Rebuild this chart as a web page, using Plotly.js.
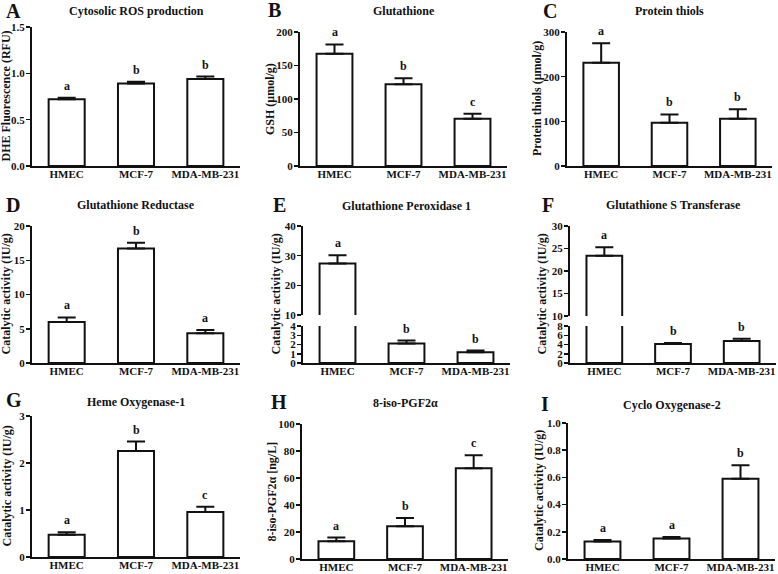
<!DOCTYPE html>
<html><head><meta charset="utf-8">
<script src="https://cdn.plot.ly/plotly-3.0.1.min.js"></script>
<style>html,body{margin:0;padding:0;background:#fff}</style>
</head><body><div id="chart" style="width:778px;height:574px"></div>
<script>
const categories = ['HMEC', 'MCF-7', 'MDA-MB-231'];

const rosMean = [0.72, 0.89, 0.94];
const rosErr = [0.016, 0.02, 0.025];
const rosLetters = ['a', 'b', 'b'];

const gshMean = [167.5, 122, 70.5];
const gshErr = [14, 9, 7.5];
const gshLetters = ['a', 'b', 'c'];

const thiolMean = [231, 97, 106];
const thiolErr = [44, 18.5, 21];
const thiolLetters = ['a', 'b', 'b'];

const grMean = [6.0, 16.7, 4.35];
const grErr = [0.65, 0.85, 0.45];
const grLetters = ['a', 'b', 'a'];

const gpxMean = [27.4, 2.1, 1.17];
const gpxErr = [2.7, 0.32, 0.18];
const gpxLetters = ['a', 'b', 'b'];

const gstMean = [23.4, 4.1, 4.75];
const gstErr = [1.9, 0.22, 0.5];
const gstLetters = ['a', 'b', 'b'];

const hoMean = [0.475, 2.255, 0.96];
const hoErr = [0.05, 0.2, 0.11];
const hoLetters = ['a', 'b', 'c'];

const isoMean = [13.2, 24.2, 67.2];
const isoErr = [2.7, 6.2, 9.6];
const isoLetters = ['a', 'b', 'c'];

const coxMean = [0.128, 0.15, 0.59];
const coxErr = [0.012, 0.012, 0.1];
const coxLetters = ['a', 'a', 'b'];

const W = 778, H = 574;
const FONT = 'Liberation Serif, Times New Roman, serif';
const dx = (a, b) => [a / W, b / W];
const dy = (top, bottom) => [1 - bottom / H, 1 - top / H];
const axId = n => (n === 1 ? '' : String(n));

const panels = [
  {tag: 'A', title: 'Cytosolic ROS production', ytitle: 'DHE Fluorescence (RFU)', mean: rosMean, err: rosErr, letters: rosLetters,
   x: [32, 240], segs: [{range: [0, 1.5], y: [27, 166], dtick: 0.5, fmt: '.1f'}], ytx: 5, lx: 4, ly: 11, ty: 11},
  {tag: 'B', title: 'Glutathione', ytitle: 'GSH (μmol/g)', mean: gshMean, err: gshErr, letters: gshLetters,
   x: [300, 507], segs: [{range: [0, 200], y: [32, 166], dtick: 50}], ytx: 270, lx: 266, ly: 10, ty: 11},
  {tag: 'C', title: 'Protein thiols', ytitle: 'Protein thiols (μmol/g)', mean: thiolMean, err: thiolErr, letters: thiolLetters,
   x: [567, 772], segs: [{range: [0, 300], y: [32, 166], dtick: 100}], ytx: 537, lx: 541, ly: 11, ty: 11},
  {tag: 'D', title: 'Glutathione Reductase', ytitle: 'Catalytic activity (IU/g)', mean: grMean, err: grErr, letters: grLetters,
   x: [32, 240], segs: [{range: [0, 20], y: [226, 363], dtick: 5}], ytx: 6, lx: 4, ly: 205, ty: 205},
  {tag: 'E', title: 'Glutathione Peroxidase 1', ytitle: 'Catalytic activity (IU/g)', mean: gpxMean, err: gpxErr, letters: gpxLetters,
   x: [303, 510], segs: [{range: [10, 40], y: [226, 315], dtick: 10}, {range: [0, 4], y: [326, 363], dtick: 1}], ytx: 276, lx: 271, ly: 205, ty: 206},
  {tag: 'F', title: 'Glutathione S Transferase', ytitle: 'Catalytic activity (IU/g)', mean: gstMean, err: gstErr, letters: gstLetters,
   x: [570, 776], segs: [{range: [10, 30], y: [226, 316], dtick: 5}, {range: [0, 8], y: [326, 363], dtick: 2}], ytx: 542, lx: 540, ly: 205, ty: 205},
  {tag: 'G', title: 'Heme Oxygenase-1', ytitle: 'Catalytic activity (IU/g)', mean: hoMean, err: hoErr, letters: hoLetters,
   x: [32, 240], segs: [{range: [0, 3], y: [416, 557], dtick: 1}], ytx: 6, lx: 4, ly: 400, ty: 402},
  {tag: 'H', title: '8-iso-PGF2α', ytitle: '8-iso-PGF2α [ng/L]', mean: isoMean, err: isoErr, letters: isoLetters,
   x: [302, 508], segs: [{range: [0, 100], y: [424, 559], dtick: 20}], ytx: 271, lx: 269, ly: 402, ty: 403},
  {tag: 'I', title: 'Cyclo Oxygenase-2', ytitle: 'Catalytic activity (IU/g)', mean: coxMean, err: coxErr, letters: coxLetters,
   x: [568, 775], segs: [{range: [0, 1.0], y: [423, 559], dtick: 0.2, fmt: '.1f'}], ytx: 539, lx: 539, ly: 404, ty: 405}
];

const layout = {
  width: W, height: H, margin: {l: 0, r: 0, t: 0, b: 0}, showlegend: false,
  paper_bgcolor: 'white', plot_bgcolor: 'rgba(0,0,0,0)',
  font: {family: FONT, size: 11, color: '#111', weight: 'bold'},
  annotations: []
};
const data = [];
let extra = 10;

panels.forEach((p, idx) => {
  const i = idx + 1;
  const nseg = p.segs.length;
  const axisOf = [];
  p.segs.forEach((s, k) => {
    const lower = (k === nseg - 1);
    const n = lower ? i : extra++;
    axisOf.push(n);
    layout['xaxis' + axId(n)] = {
      domain: dx(p.x[0], p.x[1]), type: 'category', categoryarray: categories, range: [-0.5, 2.5],
      anchor: 'y' + axId(n), showline: lower, linecolor: '#111', linewidth: 2,
      ticks: '', ticklen: 0, showticklabels: lower, ticklabelstandoff: -3,
      tickfont: {family: FONT, size: 11, color: '#111', weight: 'bold'},
      showgrid: false, zeroline: false, fixedrange: true
    };
    layout['yaxis' + axId(n)] = {
      domain: dy(s.y[0], s.y[1]), range: s.range, anchor: 'x' + axId(n),
      showline: true, linecolor: '#111', linewidth: 2,
      ticks: 'outside', ticklen: 4, tickwidth: 1.5, tickcolor: '#111', ticklabelstandoff: -1,
      tick0: s.range[0], dtick: s.dtick, tickformat: s.fmt || '',
      tickfont: {family: FONT, size: 11, color: '#111', weight: 'bold'},
      showgrid: false, zeroline: false, fixedrange: true
    };
    data.push({
      type: 'bar', x: categories, y: p.mean, width: 0.52,
      xaxis: 'x' + axId(n), yaxis: 'y' + axId(n),
      marker: {color: 'white', line: {color: '#111', width: 2}},
      error_y: {type: 'data', symmetric: false, array: p.err, arrayminus: p.err.map(() => 0),
                color: '#111', thickness: 2, width: 9},
      hoverinfo: 'skip'
    });
  });
  // significance letters
  p.mean.forEach((m, j) => {
    const top = m + p.err[j];
    let k = nseg - 1;
    if (nseg > 1 && m > p.segs[nseg - 1].range[1]) k = 0;
    const n = axisOf[k];
    layout.annotations.push({
      x: categories[j], y: top, xref: 'x' + axId(n), yref: 'y' + axId(n),
      text: p.letters[j], showarrow: false, yanchor: 'bottom', yshift: 3,
      font: {family: FONT, size: 12, color: '#111', weight: 'bold'}
    });
  });
  const yTop = p.segs[0].y[0], yBot = p.segs[nseg - 1].y[1];
  layout.annotations.push({
    x: (p.x[0] + p.x[1]) / 2 / W, y: 1 - p.ty / H, xref: 'paper', yref: 'paper',
    text: p.title, showarrow: false, xanchor: 'center', yanchor: 'middle',
    font: {family: FONT, size: 12, color: '#111', weight: 'bold'}
  });
  layout.annotations.push({
    x: p.ytx / W, y: 1 - (yTop + yBot) / 2 / H, xref: 'paper', yref: 'paper',
    text: p.ytitle, showarrow: false, textangle: -90, xanchor: 'center', yanchor: 'middle',
    font: {family: FONT, size: 12, color: '#111', weight: 'bold'}
  });
  layout.annotations.push({
    x: p.lx / W, y: 1 - p.ly / H, xref: 'paper', yref: 'paper',
    text: p.tag, showarrow: false, xanchor: 'left', yanchor: 'middle',
    font: {family: FONT, size: 20, color: '#111', weight: 'bold'}
  });
});

Plotly.newPlot('chart', data, layout, {staticPlot: true, displayModeBar: false});
</script>
</body></html>
